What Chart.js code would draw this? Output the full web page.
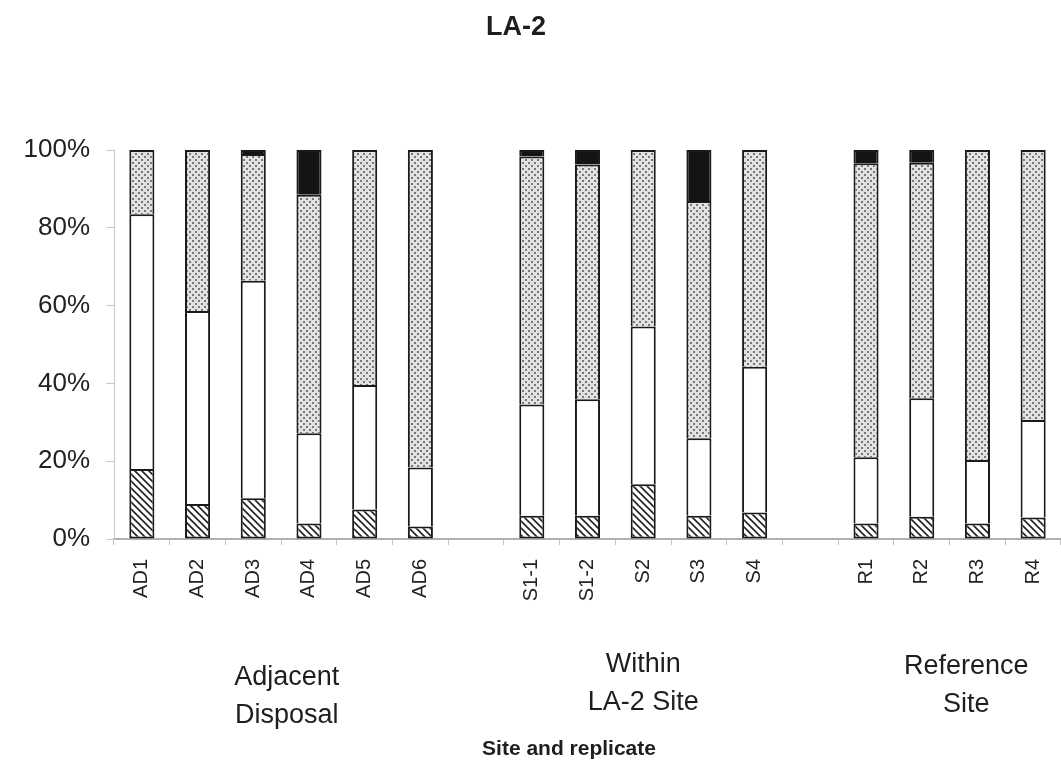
<!DOCTYPE html>
<html lang="en">

<head>
  <meta charset="UTF-8">
  <title>LA-2</title>
  <script src="https://cdn.jsdelivr.net/npm/chart.js"></script>
  <style>
    body { margin: 0; background: #fff; }
    .wrap { width: 1061px; height: 766px; position: relative; }
  </style>
</head>

<body>
  <div class="wrap">
    <canvas id="la2Chart"></canvas>
  </div>

  <script>
    // categories (blank entries are the gaps between the three site groups)
    const siteLabels = ["AD1", "AD2", "AD3", "AD4", "AD5", "AD6", "", "S1-1", "S1-2", "S2", "S3", "S4", "", "R1", "R2", "R3", "R4"];

    // stacked shares (%) from bottom to top
    const hatchedPart = [18, 9, 10.5, 4, 7.6, 3.2, null, 6, 6, 14.1, 6, 6.8, null, 4, 5.7, 4, 5.5];
    const openPart = [65.5, 49.6, 55.9, 23.2, 32, 15.2, null, 28.6, 29.9, 40.5, 19.9, 37.5, null, 17, 30.5, 16.3, 25.1];
    const dottedPart = [16.5, 41.4, 32.6, 61.3, 60.4, 81.6, null, 63.7, 60.4, 45.4, 61, 55.7, null, 75.6, 60.5, 79.7, 69.4];
    const blackPart = [0, 0, 1, 11.5, 0, 0, null, 1.7, 3.7, 0, 13.1, 0, null, 3.4, 3.3, 0, 0];

    const yTicks = [0, 20, 40, 60, 80, 100];

    const groupNames = [["Adjacent", "Disposal"], ["Within", "LA-2 Site"], ["Reference", "Site"]];
    const groupAt = [2.6, 9.0, 14.8];
    const groupTop = [678, 665, 667];

    function hatchPattern() {
      const c = document.createElement("canvas");
      c.width = 7; c.height = 7;
      const g = c.getContext("2d");
      g.fillStyle = "#fff";
      g.fillRect(0, 0, 7, 7);
      g.strokeStyle = "#222";
      g.lineWidth = 1.6;
      g.beginPath();
      g.moveTo(-1, -1); g.lineTo(8, 8);
      g.moveTo(-1, 6); g.lineTo(1, 8);
      g.moveTo(6, -1); g.lineTo(8, 1);
      g.stroke();
      return g.createPattern(c, "repeat");
    }

    function dotPattern() {
      const c = document.createElement("canvas");
      c.width = 6; c.height = 6;
      const g = c.getContext("2d");
      g.fillStyle = "#e2e2e2";
      g.fillRect(0, 0, 6, 6);
      g.fillStyle = "#555";
      [[1, 1], [4, 4]].forEach(([x, y]) => {
        g.beginPath();
        g.arc(x, y, 1, 0, Math.PI * 2);
        g.fill();
      });
      return g.createPattern(c, "repeat");
    }

    const bottomBorder = { top: 2, left: 2, right: 2, bottom: 2 };
    const upperBorder = { top: 2, left: 2, right: 2, bottom: 0 };

    const textPlugin = {
      id: "texts",
      afterDraw(chart) {
        const ctx = chart.ctx;
        const x = chart.scales.x;
        ctx.save();
        ctx.fillStyle = "#1e1e1e";
        ctx.textAlign = "center";
        ctx.textBaseline = "middle";

        ctx.font = "bold 27px 'Liberation Sans', Arial, sans-serif";
        ctx.fillText("LA-2", 516, 28);

        ctx.font = "27px 'Liberation Sans', Arial, sans-serif";
        groupNames.forEach((lines, i) => {
          const cx = x.getPixelForValue(groupAt[i]);
          lines.forEach((t, j) => ctx.fillText(t, cx, groupTop[i] + j * 38));
        });

        ctx.font = "bold 21px 'Liberation Sans', Arial, sans-serif";
        ctx.fillText("Site and replicate", 569, 749);
        ctx.restore();
      }
    };

    new Chart(document.getElementById("la2Chart"), {
      type: "bar",
      data: {
        labels: siteLabels,
        datasets: [
          { label: "hatched", data: hatchedPart, backgroundColor: hatchPattern(), borderWidth: bottomBorder },
          { label: "open", data: openPart, backgroundColor: "#fff", borderWidth: upperBorder },
          { label: "dotted", data: dottedPart, backgroundColor: dotPattern(), borderWidth: upperBorder },
          { label: "black", data: blackPart, backgroundColor: "#141414", borderWidth: upperBorder }
        ]
      },
      options: {
        responsive: true,
        maintainAspectRatio: false,
        animation: false,
        layout: { padding: { top: 150, right: 0, left: 0, bottom: 0 } },
        datasets: {
          bar: {
            barPercentage: 0.45,
            categoryPercentage: 1,
            borderColor: "#1a1a1a",
            borderSkipped: false
          }
        },
        plugins: {
          legend: { display: false },
          title: { display: false },
          tooltip: { enabled: false }
        },
        scales: {
          x: {
            stacked: true,
            afterFit(scale) {
              scale.height = 227;
              scale.paddingRight = 0;
              scale.paddingLeft = 0;
            },
            grid: { drawOnChartArea: false, color: "#c4c4c4", tickLength: 6 },
            border: { color: "#b0b0b0", width: 2 },
            ticks: {
              minRotation: 90,
              maxRotation: 90,
              autoSkip: false,
              padding: 14,
              color: "#222",
              font: { family: "'Liberation Sans', Arial, sans-serif", size: 20 }
            }
          },
          y: {
            stacked: true,
            min: 0,
            max: 100,
            afterFit(scale) { scale.width = 114; },
            afterBuildTicks(scale) { scale.ticks = yTicks.map(v => ({ value: v })); },
            grid: { drawOnChartArea: false, color: "#c8c8c8", tickLength: 8 },
            border: { color: "#c8c8c8", width: 1 },
            ticks: {
              padding: 16,
              color: "#222",
              font: { family: "'Liberation Sans', Arial, sans-serif", size: 26 },
              callback: v => v + "%"
            }
          }
        }
      },
      plugins: [textPlugin]
    });
  </script>
</body>

</html>
